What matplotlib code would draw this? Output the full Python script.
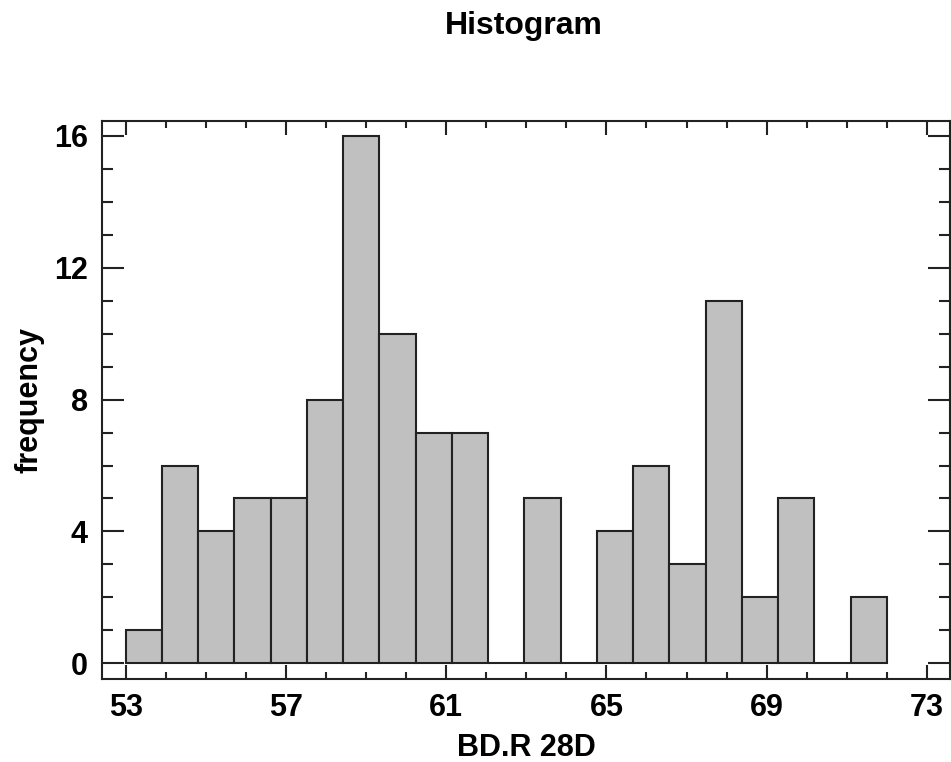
import numpy as np
import matplotlib.pyplot as plt
from matplotlib.ticker import MultipleLocator

# Histogram data
bin_lo = 53
bin_hi = 72
n_bins = 21
counts = [1, 6, 4, 5, 5, 8, 16, 10, 7, 7, 0, 5, 0, 4, 6, 3, 11, 2, 5, 0, 2]
x_ticks = [53, 57, 61, 65, 69, 73]
y_ticks = [0, 4, 8, 12, 16]

edges = np.linspace(bin_lo, bin_hi, n_bins + 1)

plt.rcParams['font.family'] = ['Liberation Sans', 'DejaVu Sans']
plt.rcParams['font.weight'] = 'bold'

fig = plt.figure(figsize=(9.51, 7.62), dpi=100)
ax = fig.add_axes([0.107, 0.109, 0.892, 0.732])

ax.bar(edges[:-1], counts, width=np.diff(edges), align='edge',
       color='#c0c0c0', edgecolor='#222222', linewidth=1.5)

ax.set_xlim(52.4, 73.58)
ax.set_ylim(-0.476, 16.45)
ax.set_xticks(x_ticks)
ax.set_yticks(y_ticks)
ax.xaxis.set_minor_locator(MultipleLocator(1))
ax.yaxis.set_minor_locator(MultipleLocator(1))

ax.tick_params(which='both', direction='in', top=True, right=True,
               width=1.5, colors='#222222', labelcolor='black', labelsize=22)
ax.tick_params(axis='x', which='major', length=10, pad=10)
ax.tick_params(axis='x', which='minor', length=5)
ax.tick_params(axis='y', which='major', length=16, pad=10)
ax.tick_params(axis='y', which='minor', length=8)
for s in ax.spines.values():
    s.set_linewidth(1.5)
    s.set_color('#222222')

ax.set_xlabel('BD.R 28D', fontsize=22, fontweight='bold', labelpad=7)
ax.set_ylabel('frequency', fontsize=22, fontweight='bold', labelpad=7)
fig.text(0.551, 0.966, 'Histogram', ha='center', va='center',
         fontsize=23, fontweight='bold')

fig.savefig('out.png', dpi=100)
